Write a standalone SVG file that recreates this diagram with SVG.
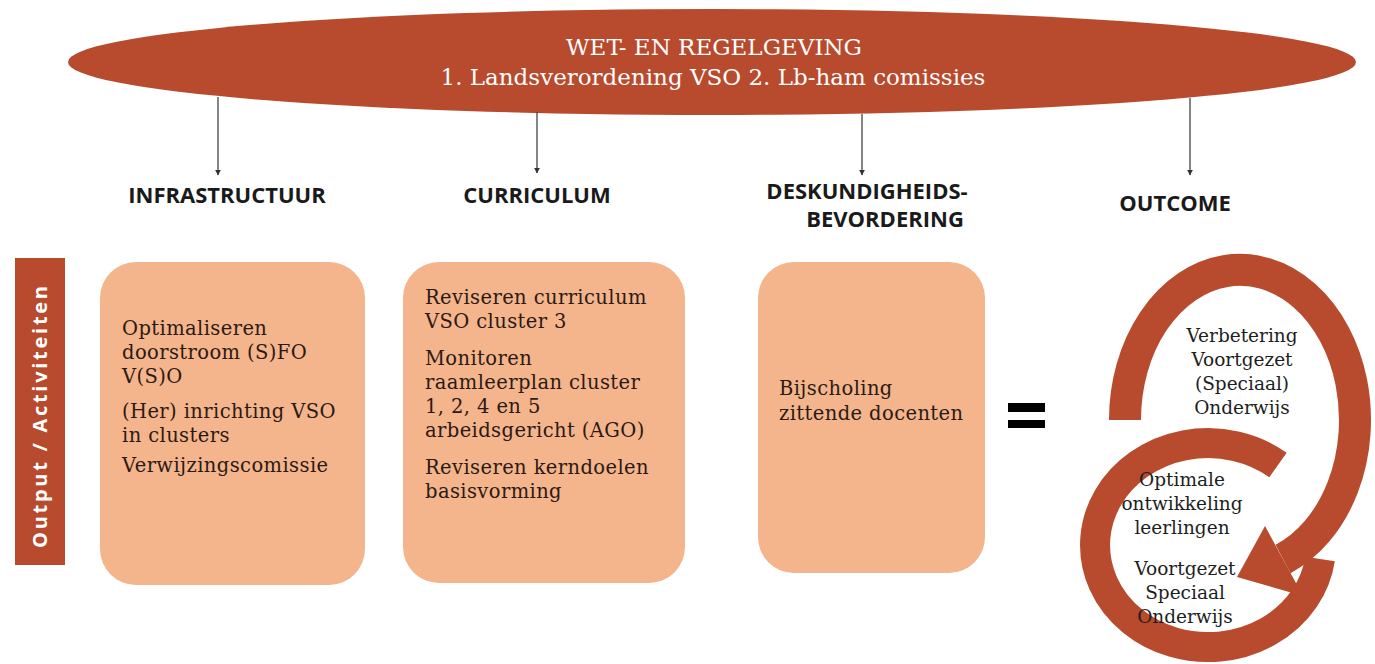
<svg xmlns="http://www.w3.org/2000/svg" width="1375" height="664" viewBox="0 0 1375 664">
<defs>
<marker id="ah" viewBox="0 0 10 10" refX="9" refY="5" markerWidth="6" markerHeight="6" markerUnits="userSpaceOnUse" orient="auto">
<path d="M0,0 L10,5 L0,10 z" fill="#333"/>
</marker>
<style>
.red{fill:#B84A2E}
.box{fill:#F4B48C}
.hdr{font-family:"Open Sans","Liberation Sans",sans-serif;font-weight:bold;font-size:22px;fill:#1a1a1a}
.bt{font-family:"DejaVu Serif","Liberation Serif",serif;font-size:19.5px;letter-spacing:0.4px;fill:#2b1a12}
.ot{font-family:"DejaVu Serif","Liberation Serif",serif;font-size:18.5px;fill:#1e1e1e;text-anchor:middle}
.et{font-family:"DejaVu Serif","Liberation Serif",serif;font-size:23px;fill:#ffffff;text-anchor:middle}
.conn{stroke:#444;stroke-width:1.3;fill:none}
.ring{fill:none;stroke:#B84A2E;stroke-linecap:butt}
</style>
</defs>
<rect width="1375" height="664" fill="#ffffff"/>

<g id="wet">
<ellipse class="red" cx="712" cy="62" rx="644" ry="53"/>
<text class="et" x="714" y="55">WET- EN REGELGEVING</text>
<text class="et" x="713" y="85">1. Landsverordening VSO 2. Lb-ham comissies</text>
</g>

<g id="connectors">
<line class="conn" x1="218" y1="97" x2="218" y2="175" marker-end="url(#ah)"/>
<line class="conn" x1="537" y1="112" x2="537" y2="173" marker-end="url(#ah)"/>
<line class="conn" x1="862" y1="114" x2="862" y2="175" marker-end="url(#ah)"/>
<line class="conn" x1="1190" y1="98" x2="1190" y2="175" marker-end="url(#ah)"/>
</g>

<g id="headers">
<text class="hdr" x="227" y="203" text-anchor="middle">INFRASTRUCTUUR</text>
<text class="hdr" x="537" y="203" text-anchor="middle">CURRICULUM</text>
<text class="hdr" x="867" y="199" text-anchor="middle">DESKUNDIGHEIDS-</text>
<text class="hdr" x="885" y="227" text-anchor="middle">BEVORDERING</text>
<text class="hdr" x="1175" y="211" text-anchor="middle">OUTCOME</text>
</g>

<g id="label-bar">
<rect class="red" x="15" y="258" width="50" height="307"/>
<text transform="translate(47,417) rotate(-90)" text-anchor="middle" font-family="'Open Sans','Liberation Sans',sans-serif" font-weight="bold" font-size="20" fill="#ffffff" textLength="262" lengthAdjust="spacing">Output / Activiteiten</text>
</g>

<g id="infrastructuur">
<rect class="box" x="100" y="262" width="265" height="323" rx="36"/>
<text class="bt" x="122" y="335">Optimaliseren</text>
<text class="bt" x="122" y="359">doorstroom (S)FO</text>
<text class="bt" x="122" y="383">V(S)O</text>
<text class="bt" x="122" y="418">(Her) inrichting VSO</text>
<text class="bt" x="122" y="442">in clusters</text>
<text class="bt" x="122" y="472">Verwijzingscomissie</text>
</g>

<g id="curriculum">
<rect class="box" x="403" y="262" width="282" height="321" rx="36"/>
<text class="bt" x="425" y="304">Reviseren curriculum</text>
<text class="bt" x="425" y="328">VSO cluster 3</text>
<text class="bt" x="425" y="365">Monitoren</text>
<text class="bt" x="425" y="389">raamleerplan cluster</text>
<text class="bt" x="425" y="413">1, 2, 4 en 5</text>
<text class="bt" x="425" y="437">arbeidsgericht (AGO)</text>
<text class="bt" x="425" y="474">Reviseren kerndoelen</text>
<text class="bt" x="425" y="498">basisvorming</text>
</g>

<g id="deskundigheid">
<rect class="box" x="758" y="262" width="227" height="311" rx="36"/>
<text class="bt" x="779" y="395">Bijscholing</text>
<text class="bt" x="779" y="420">zittende docenten</text>
</g>

<g id="equals">
<rect x="1008" y="403" width="37" height="9" fill="#000"/>
<rect x="1008" y="420" width="37" height="8" fill="#000"/>
</g>

<g id="outcome">
<path class="ring" stroke-width="30" d="M1278,465 A113,102 0 1 0 1320,559"/>
<path class="ring" stroke-width="32" d="M1125,420 A115,150 0 1 1 1283,559"/>
<polygon class="red" points="1265,526 1303,596 1237,577"/>
<text class="ot" x="1242" y="342">Verbetering</text>
<text class="ot" x="1242" y="366">Voortgezet</text>
<text class="ot" x="1242" y="390">(Speciaal)</text>
<text class="ot" x="1242" y="414">Onderwijs</text>
<text class="ot" x="1182" y="486">Optimale</text>
<text class="ot" x="1182" y="510">ontwikkeling</text>
<text class="ot" x="1182" y="534">leerlingen</text>
<text class="ot" x="1185" y="575">Voortgezet</text>
<text class="ot" x="1185" y="599">Speciaal</text>
<text class="ot" x="1185" y="623">Onderwijs</text>
</g>
</svg>
